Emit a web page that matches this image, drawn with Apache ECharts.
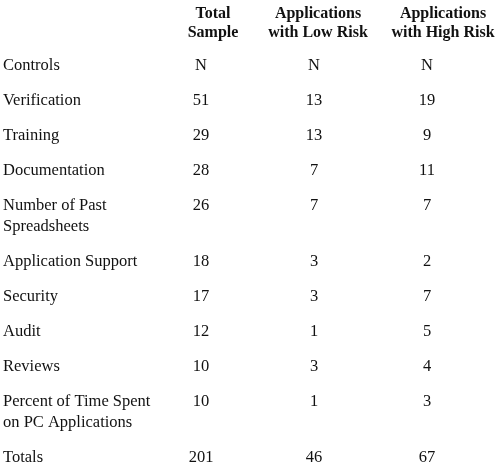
<!DOCTYPE html><html><head><meta charset="utf-8"><script src="https://cdn.jsdelivr.net/npm/echarts@6/dist/echarts.min.js"></script>
<style>html,body{margin:0;background:#fff}#c{width:500px;height:464px}</style></head><body><div id="c"></div><script>
const headers=["Total\nSample","Applications\nwith Low Risk","Applications\nwith High Risk"];
const rowLabels=["Controls","Verification","Training","Documentation","Number of Past\nSpreadsheets","Application Support","Security","Audit","Reviews","Percent of Time Spent\non PC Applications","Totals"];
const totalSample=["N","51","29","28","26","18","17","12","10","10","201"];
const lowRisk=["N","13","13","7","7","3","3","1","3","1","46"];
const highRisk=["N","19","9","11","7","2","7","5","4","3","67"];
const rowY=[65,100,135,170,205,261,296,331,366,401,457];
const colX=[201,314,427];const headX=[213,318,443];
const font='"Liberation Serif", serif';
const els=[];
headers.forEach((h,i)=>els.push({type:'text',x:headX[i],y:4,style:{text:h,font:'bold 16px '+font,fill:'#111',align:'center',verticalAlign:'top',lineHeight:19}}));
rowLabels.forEach((l,i)=>{els.push({type:'text',x:3,y:rowY[i]-10,style:{text:l,font:'16.5px '+font,fill:'#111',align:'left',verticalAlign:'top',lineHeight:21}});
[totalSample,lowRisk,highRisk].forEach((col,j)=>els.push({type:'text',x:colX[j],y:rowY[i]-10,style:{text:col[i],font:'16.5px '+font,fill:'#111',align:'center',verticalAlign:'top',lineHeight:21}}));});
const ch=echarts.init(document.getElementById('c'));
ch.setOption({animation:false,graphic:els});
</script></body></html>
